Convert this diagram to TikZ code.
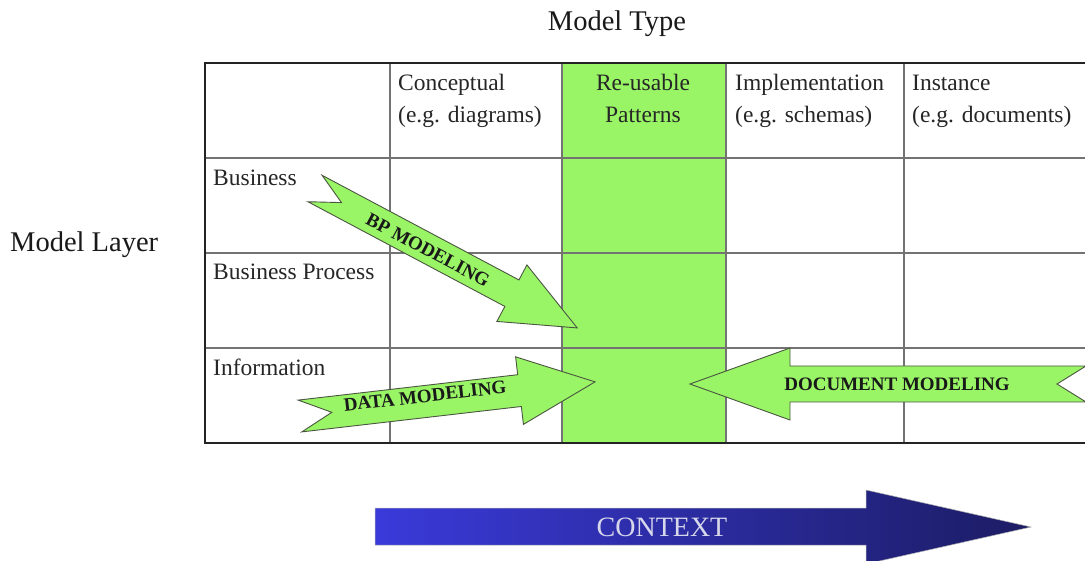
\documentclass[tikz,border=0pt]{standalone}
\usepackage{fontspec}
\setmainfont{Liberation Serif}
\definecolor{pgreen}{RGB}{153,245,102}
\definecolor{gridc}{RGB}{115,115,115}
\definecolor{borderc}{RGB}{35,35,35}
\definecolor{arrowline}{RGB}{75,85,65}
\definecolor{ctxL}{RGB}{58,58,218}
\definecolor{ctxR}{RGB}{28,28,100}
\definecolor{ctxtext}{RGB}{215,215,235}
\begin{document}
\begin{tikzpicture}[x=1pt,y=-1pt,
  tabtext/.style={font=\fontsize{23.5}{28}\selectfont, text=black!85, inner sep=0pt},
  titletext/.style={font=\fontsize{28.5}{34}\selectfont, text=black!90, inner sep=0pt},
  arrowtext/.style={font=\fontsize{19}{22}\selectfont\bfseries, text=black!90, inner sep=0pt},
  greenarrow/.style={fill=pgreen, draw=arrowline, line width=0.9pt, line join=miter},
  gridline/.style={draw=gridc, line width=1.2pt},
  borderline/.style={draw=borderc, line width=2.4pt},
  ctxarrow/.style={left color=ctxL, right color=ctxR, draw=gray!60, line width=0.5pt},
  ]
\useasboundingbox (0,0) rectangle (1085,561);

% titles
\node[titletext, anchor=base] (mtype) at (617,31) {Model Type};
\node[titletext, anchor=base west] (mlayer) at (10,252) {Model Layer};

% green column
\fill[pgreen] (562,63) rectangle (726,443);

% grid
\foreach \yy in {158,253,348} \draw[gridline] (205,\yy) -- (1085,\yy);
\foreach \xx in {390,562,726,904} \draw[gridline] (\xx,63) -- (\xx,443);
\draw[borderline] (1090,63) -- (205,63) -- (205,443) -- (1090,443);

% header texts
\node[tabtext, anchor=base west] (c1a) at (398,91) {Conceptual};
\node[tabtext, anchor=base west] (c1b) at (398,123) {(e.g. diagrams)};
\node[tabtext, anchor=base] (c2a) at (643,91) {Re-usable};
\node[tabtext, anchor=base] (c2b) at (643,123) {Patterns};
\node[tabtext, anchor=base west] (c3a) at (735,91) {Implementation};
\node[tabtext, anchor=base west] (c3b) at (735,123) {(e.g. schemas)};
\node[tabtext, anchor=base west] (c4a) at (912,91) {Instance};
\node[tabtext, anchor=base west] (c4b) at (912,123) {(e.g. documents)};

% row labels
\node[tabtext, anchor=base west] (r1) at (213,186) {Business};
\node[tabtext, anchor=base west] (r2) at (213,280) {Business Process};
\node[tabtext, anchor=base west] (r3) at (213,376) {Information};

% BP modeling arrow
\draw[greenarrow, shift={(315,188.5)}, rotate=-28]
  (0,-15) -- (223,-15) -- (223,-32) -- (297,0) -- (223,32) -- (223,15) -- (0,15) -- (30,0) -- cycle;
\node[arrowtext, rotate=-28] (bp) at (428,250) {BP MODELING};

% Data modeling arrow
\draw[greenarrow, shift={(300,416)}, rotate=6.6]
  (0,-16) -- (221,-16) -- (221,-34) -- (297,0) -- (221,34) -- (221,16) -- (0,16) -- (32,0) -- cycle;
\node[arrowtext, rotate=6.5] (data) at (425,396) {DATA MODELING};

% Document modeling arrow
\draw[greenarrow, shift={(1086,384)}, rotate=180]
  (0,-18) -- (296,-18) -- (296,-36) -- (396,0) -- (296,36) -- (296,18) -- (0,18) -- (29,0) -- cycle;
\node[arrowtext] (doc) at (897,384) {DOCUMENT MODELING};

% context arrow
\shade[ctxarrow] (375,508) -- (866,508) -- (866,490) -- (1031,527) -- (866,564) -- (866,545) -- (375,545) -- cycle;
\node[font=\fontsize{28}{32}\selectfont, text=ctxtext, inner sep=0pt] (ctx) at (662,527) {CONTEXT};
\end{tikzpicture}
\end{document}
